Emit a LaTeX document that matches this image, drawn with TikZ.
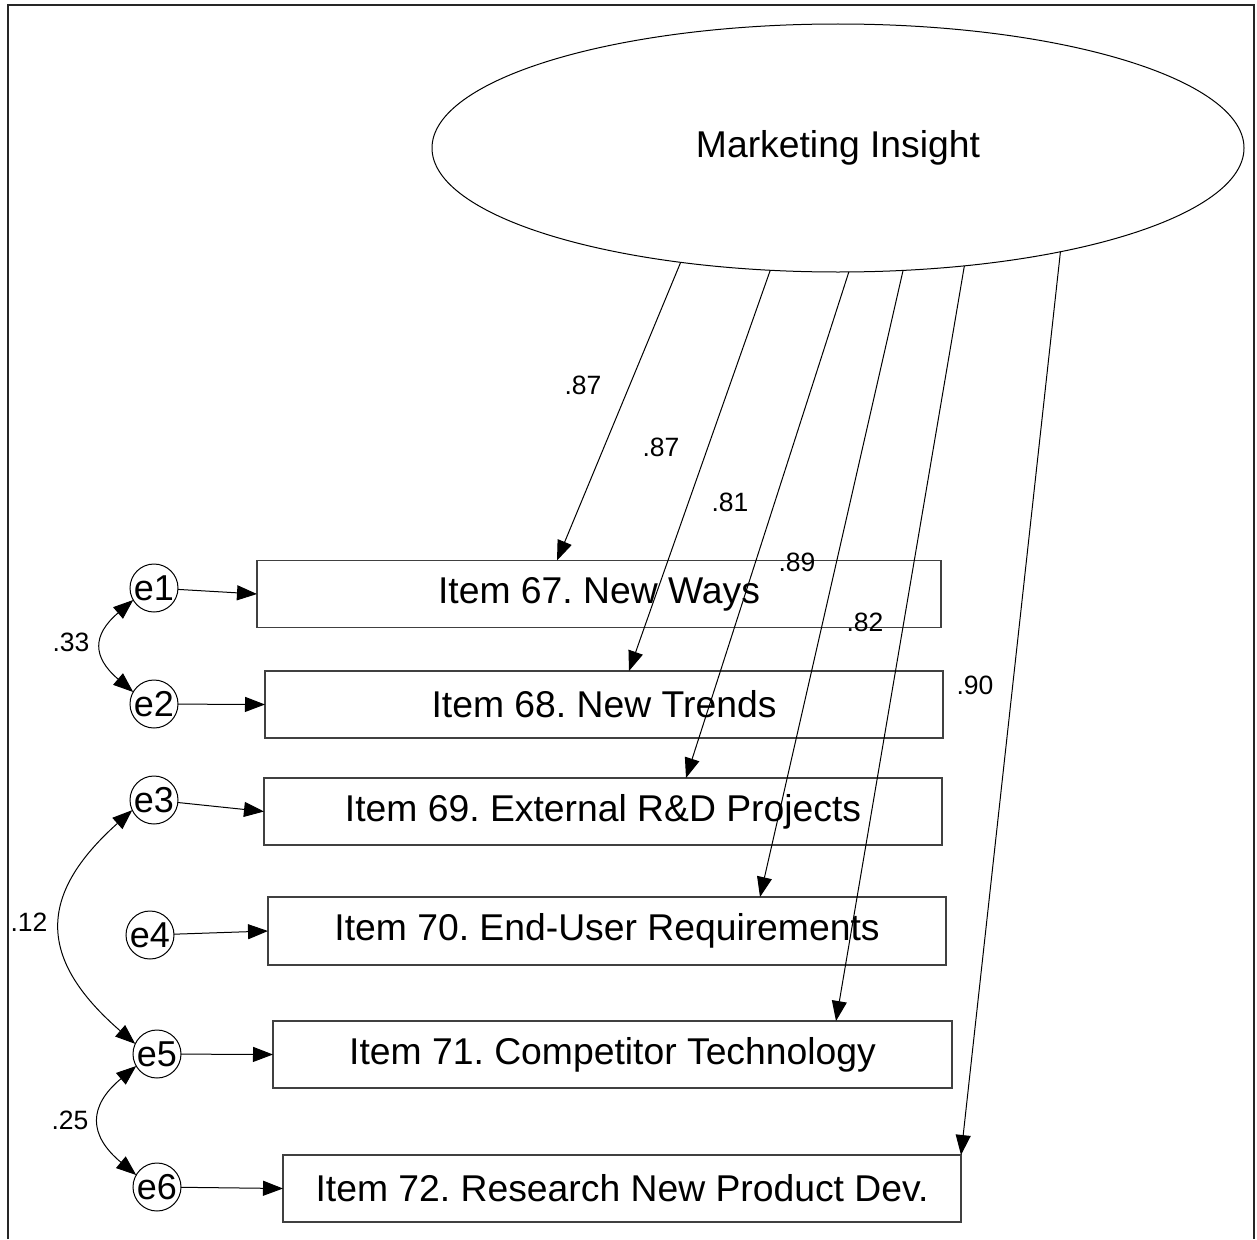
\documentclass[tikz,border=0pt]{standalone}
\usepackage{fontspec}
\setmainfont{Liberation Sans}
\usetikzlibrary{arrows.meta,shapes.geometric}
\begin{document}
\frenchspacing
\begin{tikzpicture}[x=1pt,y=-1pt,
  lat/.style={draw, ellipse, line width=1pt, minimum width=812pt, minimum height=248pt,
              inner sep=0pt, outer sep=0pt, font=\fontsize{37.3}{40}\selectfont},
  obs/.style={draw=black!75, line width=1.3pt, rectangle, minimum height=67pt,
              inner sep=0pt, outer sep=0pt, font=\fontsize{37.3}{40}\selectfont},
  err/.style={draw, circle, line width=1pt, minimum size=48pt, inner sep=0pt,
              outer sep=0pt, font=\fontsize{36}{38}\selectfont},
  tip/.tip={Triangle[length=20pt,width=15pt]},
  arr/.style={-tip, line width=1pt},
  cov/.style={tip-tip, line width=1pt},
  lab/.style={font=\fontsize{26.5}{28}\selectfont, inner sep=0pt}
]
\useasboundingbox (0,0) rectangle (1257,1239);
% frame
\draw[line width=2pt, black!85] (8,1239) -- (8,5) -- (1254,5) -- (1254,1239);

% latent
\node[lat] (MI) at (838,148) {Marketing Insight};

% observed
\node[obs, minimum width=684pt] (b1) at (599,594)    {Item 67. New Ways};
\node[obs, minimum width=678pt] (b2) at (604,704.5)  {Item 68. New Trends};
\node[obs, minimum width=678pt] (b3) at (603,811.5)  {Item 69. External R\&D Projects};
\node[obs, minimum width=678pt, minimum height=68pt] (b4) at (607,931) {Item 70. End-User Requirements};
\node[obs, minimum width=679pt] (b5) at (612.5,1054.5) {Item 71. Competitor Technology};
\node[obs, minimum width=678pt] (b6) at (622,1188.5) {Item 72. Research New Product Dev.};

% errors
\node[err] (e1) at (154,588)  {e1};
\node[err] (e2) at (154,704)  {e2};
\node[err] (e3) at (154,800)  {e3};
\node[err] (e4) at (150,935)  {e4};
\node[err] (e5) at (157,1054) {e5};
\node[err] (e6) at (157,1187) {e6};

% loadings
\draw[arr] (MI.216.4) -- ([xshift=300pt]b1.north west);
\draw[arr] (MI.241.1) -- ([xshift=364pt]b2.north west);
\draw[arr] (MI.275)   -- ([xshift=422pt]b3.north west);
\draw[arr] (MI.298.2) -- ([xshift=492pt]b4.north west);
\draw[arr] (MI.317.8) -- ([xshift=563pt]b5.north west);
\draw[arr] (MI.335.6) -- (b6.north east);

% error paths
\draw[arr] (e1) -- (b1.west);
\draw[arr] (e2) -- (b2.west);
\draw[arr] (e3) -- (b3.west);
\draw[arr] (e4) -- (b4.west);
\draw[arr] (e5) -- (b5.west);
\draw[arr] (e6) -- (b6.west);

% covariances
\draw[cov] (e1.210) .. controls +(-41,35) and +(-41,-35) .. (e2.150);
\draw[cov] (e3.205) .. controls +(-95,85) and +(-98,-85) .. (e5.155);
\draw[cov] (e5.210) .. controls +(-48,40) and +(-48,-40) .. (e6.150);

% labels
\node[lab] (l1) at (583,385) {.87};
\node[lab] (l2) at (661,447) {.87};
\node[lab] (l3) at (730,502) {.81};
\node[lab] (l4) at (797,562) {.89};
\node[lab] (l5) at (865,622) {.82};
\node[lab] (l6) at (975,685) {.90};
\node[lab] (c1) at (71,642)  {.33};
\node[lab] (c2) at (29,922)  {.12};
\node[lab] (c3) at (70,1120) {.25};
\end{tikzpicture}
\end{document}
